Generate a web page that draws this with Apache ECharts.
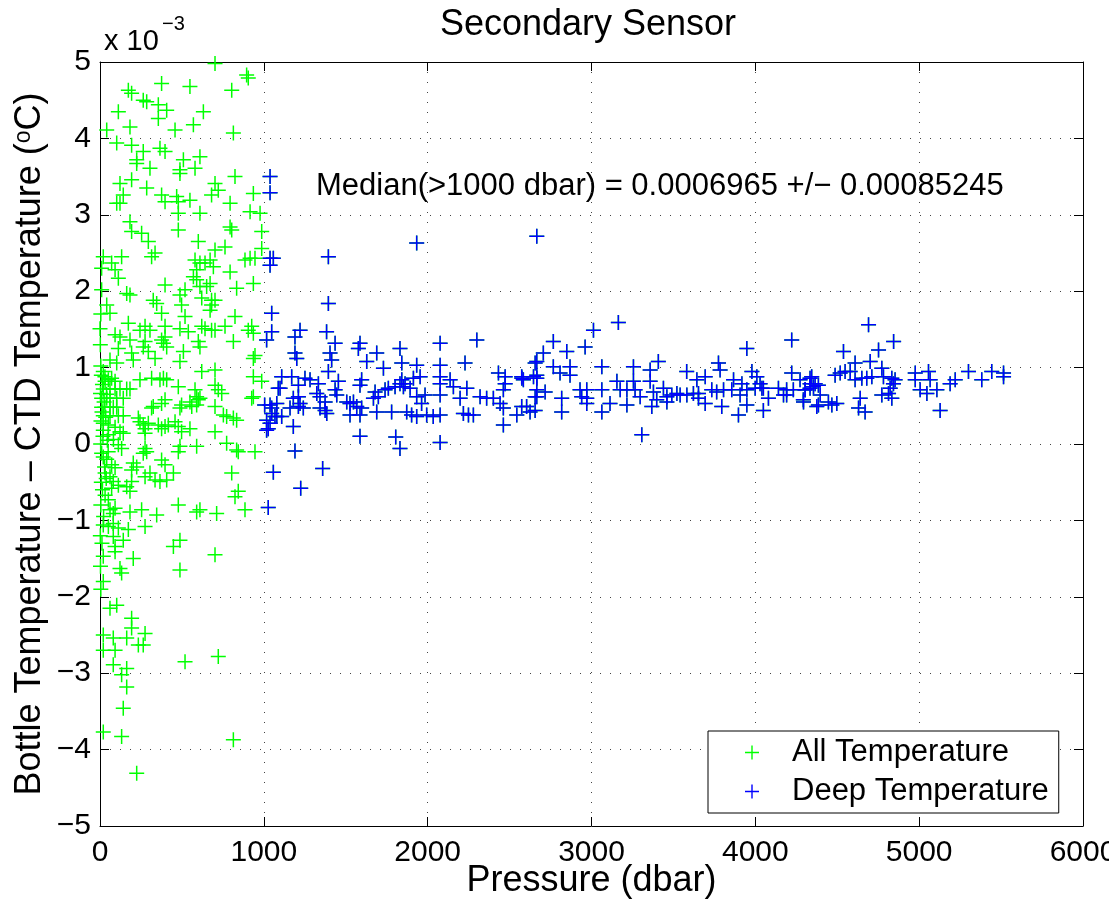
<!DOCTYPE html>
<html>
<head>
<meta charset="utf-8">
<script src="https://cdn.jsdelivr.net/npm/echarts@6/dist/echarts.min.js"></script>
<style>
  html, body { margin: 0; padding: 0; background: #ffffff; }
  #chart { width: 1109px; height: 905px; }
</style>
</head>
<body>
<div id="chart"></div>
<script>
// Values: [pressure (dbar), bottle - CTD temperature in units of 1e-3 °C]
const shallowPoints = [
  [702,4.98],[895,4.83],[905,4.79],[376,4.72],[549,4.68],[173,4.63],[193,4.59],[804,4.63],
  [264,4.50],[285,4.48],[356,4.44],[407,4.37],[112,4.35],[631,4.35],[356,4.26],[570,4.18],
  [183,4.15],[41,4.11],[458,4.11],[814,4.07],[102,3.94],[193,3.91],[366,3.87],[397,3.83],
  [264,3.83],[610,3.76],[224,3.72],[224,3.67],[509,3.72],[305,3.61],[580,3.61],[488,3.59],
  [488,3.54],[824,3.50],[193,3.46],[122,3.41],[702,3.41],[722,3.32],[285,3.35],[142,3.26],
  [376,3.26],[397,3.17],[468,3.24],[478,3.17],[549,3.19],[681,3.26],[936,3.28],[102,3.15],
  [122,3.15],[794,3.15],[478,3.02],[610,3.02],[916,3.04],[977,3.02],[183,2.91],[478,2.80],
  [794,2.84],[804,2.80],[987,2.78],[193,2.78],[254,2.76],[295,2.65],[600,2.65],[702,2.54],
  [763,2.58],[987,2.56],[20,2.45],[132,2.45],[336,2.50],[315,2.45],[580,2.41],[641,2.37],
  [672,2.41],[692,2.32],[885,2.41],[916,2.43],[946,2.43],[71,2.37],[92,2.28],[112,2.17],
  [590,2.28],[610,2.37],[794,2.25],[570,2.19],[590,2.15],[672,2.10],[936,2.10],[397,2.08],
  [610,2.06],[651,2.06],[834,2.04],[10,2.02],[163,1.97],[183,1.95],[519,2.02],[488,1.95],
  [325,1.88],[346,1.84],[621,1.91],[681,1.88],[702,1.88],[41,1.82],[498,1.82],[681,1.82],
  [61,1.71],[519,1.67],[672,1.75],[376,1.71],[824,1.67],[173,1.58],[0,1.51],[244,1.49],
  [275,1.54],[305,1.49],[397,1.54],[488,1.51],[539,1.47],[621,1.54],[641,1.51],[681,1.49],
  [702,1.49],[763,1.54],[905,1.49],[936,1.45],[926,1.54],[92,1.43],[122,1.40],[183,1.36],
  [275,1.34],[264,1.27],[376,1.36],[387,1.32],[407,1.27],[397,1.40],[509,1.21],[600,1.34],
  [610,1.27],[814,1.34],[112,1.25],[295,1.21],[336,1.12],[193,1.19],[203,1.10],[488,1.08],
  [936,1.12],[946,1.16],[61,1.10],[102,1.06],[20,0.95],[31,0.82],[51,0.84],[71,0.86],
  [92,0.82],[621,0.95],[702,0.97],[936,0.88],[987,0.82],[244,0.84],[315,0.86],[366,0.84],
  [387,0.86],[407,0.84],[478,0.75],[580,0.71],[590,0.62],[610,0.60],[702,0.77],[722,0.71],
  [743,0.66],[926,0.60],[936,0.62],[20,0.72],[61,0.72],[92,0.72],[122,0.72],[163,0.72],
  [183,0.72],[10,0.60],[41,0.60],[61,0.60],[102,0.60],[142,0.60],[315,0.47],[325,0.49],
  [376,0.53],[397,0.58],[488,0.47],[498,0.51],[549,0.55],[560,0.49],[600,0.58],[590,0.51],
  [702,0.49],[753,0.38],[773,0.36],[814,0.34],[834,0.31],[10,0.48],[30,0.48],[61,0.48],
  [81,0.48],[102,0.48],[20,0.37],[61,0.37],[112,0.37],[142,0.37],[234,0.34],[244,0.29],
  [264,0.25],[295,0.27],[275,0.20],[275,0.14],[356,0.25],[376,0.20],[397,0.23],[417,0.25],
  [458,0.29],[478,0.23],[498,0.16],[549,0.20],[702,0.16],[20,0.27],[51,0.25],[92,0.22],
  [122,0.16],[142,0.14],[20,0.18],[51,0.12],[82,0.06],[112,-0.01],[132,-0.06],[275,-0.06],
  [285,-0.10],[264,-0.12],[488,-0.03],[478,-0.10],[590,-0.03],[773,0.01],[834,-0.08],[844,-0.10],
  [946,-0.10],[20,-0.17],[41,-0.20],[71,-0.27],[92,-0.31],[203,-0.25],[224,-0.30],[193,-0.34],
  [376,-0.21],[397,-0.27],[448,-0.38],[305,-0.38],[275,-0.43],[336,-0.47],[366,-0.49],[407,-0.47],
  [193,-0.49],[163,-0.56],[183,-0.62],[804,-0.38],[844,-0.62],[824,-0.69],[31,-0.38],[61,-0.43],
  [81,-0.49],[112,-0.54],[71,-0.58],[31,-0.67],[51,-0.73],[92,-0.84],[61,-0.86],[81,-0.91],
  [183,-0.89],[254,-0.86],[346,-0.93],[478,-0.80],[590,-0.89],[610,-0.86],[712,-0.91],[885,-0.86],
  [20,-1.06],[51,-1.08],[81,-1.04],[112,-1.10],[173,-1.12],[275,-1.08],[81,-1.21],[92,-1.34],
  [142,-1.26],[488,-1.26],[448,-1.34],[20,-1.47],[203,-1.50],[702,-1.45],[92,-1.41],[122,-1.63],
  [132,-1.69],[488,-1.65],[20,-1.80],[61,-2.15],[102,-2.11],[193,-2.28],[193,-2.41],[275,-2.48],
  [20,-2.50],[81,-2.54],[163,-2.54],[234,-2.63],[264,-2.63],[20,-2.70],[92,-2.70],[519,-2.85],
  [722,-2.78],[81,-2.89],[163,-2.94],[132,-3.02],[163,-3.18],[142,-3.46],[20,-3.77],[132,-3.83],
  [814,-3.87],[224,-4.31],
  [5,1.02],[8,0.90],[15,0.78],[3,0.66],[25,0.55],[12,0.42],[6,0.30],[18,0.10],[4,0.00],
  [10,-0.12],[28,-0.30],[8,-0.50],[15,-0.60],[5,-0.80],[22,-0.95],[2,-1.20],[12,-1.30],
  [30,0.88],[40,0.65],[35,0.35],[45,0.05],[50,-0.10],[38,-0.45],[2,1.30],[5,1.70],[10,2.30],
  [3,-1.60],[5,-1.90]
];

const deepPoints = [
  [1038,3.50],[1038,3.29],[1038,2.43],[1058,2.43],[1038,2.34],[1394,2.45],[1933,2.63],[2666,2.72],
  [1394,1.84],[1048,1.71],[1048,1.47],[1221,1.49],[1190,1.40],[1383,1.47],[1017,1.36],[1435,1.32],
  [1587,1.32],[1577,1.25],[1831,1.25],[2076,1.32],[2300,1.36],[1190,1.19],[1201,1.12],[1404,1.19],
  [1414,1.10],[1689,1.19],[1628,1.08],[1842,1.06],[1730,0.99],[1933,1.03],[2076,1.03],[2076,0.88],
  [2228,1.06],[2656,1.06],[2666,0.90],[1394,0.95],[1109,0.88],[1170,0.88],[1251,0.86],[1282,0.84],
  [1333,0.79],[1455,0.82],[1597,0.84],[1587,0.77],[1842,0.84],[1862,0.79],[1913,0.86],[1954,0.88],
  [2076,0.79],[2137,0.84],[2157,0.75],[2239,0.73],[2432,0.93],[2473,0.88],[2574,0.88],[2584,0.84],
  [2646,0.88],[2656,0.62],[1099,0.73],[1079,0.53],[1180,0.60],[1160,0.47],[1211,0.77],[1211,0.62],
  [1211,0.49],[1221,0.53],[1241,0.47],[1323,0.66],[1343,0.62],[1374,0.55],[1343,0.47],[1374,0.44],
  [1384,0.40],[1435,0.71],[1445,0.64],[1506,0.55],[1526,0.53],[1547,0.55],[1567,0.49],[1597,0.47],
  [1526,0.38],[1587,0.38],[1679,0.68],[1669,0.60],[1699,0.62],[1740,0.71],[1760,0.73],[1689,0.42],
  [1780,0.42],[1801,0.75],[1831,0.79],[1852,0.75],[1893,0.73],[1872,0.42],[1902,0.38],[1933,0.36],
  [1933,0.62],[1963,0.53],[1984,0.64],[1994,0.38],[2034,0.36],[2076,0.38],[2076,0.64],[2198,0.60],
  [2218,0.40],[2249,0.38],[2279,0.38],[2320,0.62],[2360,0.60],[2401,0.60],[2442,0.53],[2462,0.47],
  [2462,0.71],[2473,0.79],[2544,0.38],[2604,0.49],[2656,0.44],[2462,0.25],[1587,0.10],[1805,0.09],
  [1831,-0.06],[2076,0.02],[1190,-0.09],[1017,0.31],[1027,0.20],[1048,0.40],[1079,0.36],[1005,0.51],
  [1038,0.51],[1058,-0.37],[1359,-0.32],[1225,-0.58],[1027,-0.83],[1180,0.23],[1088,0.73],[1048,0.47],
  [1068,0.36],[1109,0.36],[1038,0.27],[1017,0.18],
  [3164,1.59],[3012,1.49],[2767,1.34],[2961,1.27],[2849,1.21],[2706,1.19],[2666,1.08],[2767,1.01],
  [2869,1.01],[3063,1.01],[3256,1.01],[3408,1.08],[3358,0.97],[3581,0.95],[2808,0.93],[2869,0.90],
  [2666,0.86],[2575,0.86],[3775,1.06],[3785,0.97],[3694,0.88],[3643,0.84],[3948,1.25],[4222,1.36],
  [3979,0.95],[4009,0.88],[4222,0.93],[3155,0.82],[3256,0.82],[3358,0.82],[3867,0.84],[3918,0.79],
  [4029,0.79],[4040,0.73],[4344,0.88],[4334,0.79],[2666,0.71],[2717,0.68],[2930,0.71],[2971,0.71],
  [3063,0.71],[3175,0.71],[3216,0.71],[3266,0.71],[3297,0.62],[3378,0.68],[3439,0.73],[3460,0.62],
  [3490,0.64],[3521,0.66],[3541,0.64],[3582,0.64],[3622,0.66],[3653,0.66],[3734,0.71],[3764,0.68],
  [3806,0.71],[3856,0.71],[3907,0.64],[3948,0.71],[3999,0.73],[4049,0.73],[4080,0.60],[4141,0.73],
  [4191,0.71],[4232,0.71],[4304,0.71],[4334,0.73],[4365,0.79],[2574,0.49],[2625,0.42],[2666,0.62],
  [2818,0.60],[2818,0.42],[2940,0.62],[2971,0.60],[2971,0.53],[3063,0.42],[3113,0.53],[3216,0.51],
  [3368,0.49],[3398,0.58],[3460,0.55],[3653,0.60],[3694,0.53],[3795,0.49],[3897,0.38],[3948,0.51],
  [4049,0.44],[4172,0.64],[4191,0.64],[4293,0.58],[4375,0.49],[3307,0.12],
  [4691,1.56],[4844,1.34],[4538,1.21],[4752,1.23],[4609,1.06],[4701,1.08],[4772,0.99],[4487,0.90],
  [4518,0.93],[4548,0.95],[4579,0.95],[4609,0.84],[4650,0.86],[4680,0.86],[4711,0.88],[4782,0.88],
  [4833,0.86],[4853,0.84],[4976,0.93],[5057,0.95],[5067,0.84],[4976,0.84],[5301,0.95],[5443,0.95],
  [5515,0.93],[5515,0.88],[5382,0.84],[5220,0.84],[5189,0.79],[5006,0.71],[5047,0.66],[5108,0.71],
  [5128,0.44],[4823,0.73],[4843,0.79],[4813,0.66],[4772,0.64],[4833,0.60],[4640,0.60],[4630,0.47],
  [4670,0.42],[4273,0.84],[4304,0.71],[4334,0.86],[4355,0.75],[4385,0.77],[4396,0.64],[4294,0.55],
  [4385,0.51],[4446,0.55],[4467,0.51],[4497,0.53]
];

const seriesNames = ['All Temperature', 'Deep Temperature'];
const seriesColors = ['#00ff00', '#0000ff'];
const xTicks = [0, 1000, 2000, 3000, 4000, 5000, 6000];
const yTicks = [-5, -4, -3, -2, -1, 0, 1, 2, 3, 4, 5];
const titleText = 'Secondary Sensor';
const medianText = 'Median(>1000 dbar) = 0.0006965 +/\u2212 0.00085245';

const FONT = '"Liberation Sans", Arial, Helvetica, sans-serif';
const PLUS = 'path://M7.2,0H8.8V7.2H16V8.8H8.8V16H7.2V8.8H0V7.2H7.2Z';

const chart = echarts.init(document.getElementById('chart'), null, { renderer: 'canvas' });

const yTickFmt = v => (v < 0 ? '\u2212' + Math.abs(v) : String(v));
const xTickFmt = v => String(v);
const gridLine = { show: true, lineStyle: { color: '#444', width: 1, type: [1, 9] } };
const axisLine = { show: true, onZero: false, lineStyle: { color: '#000', width: 1 } };
const axisTick = { show: true, inside: true, length: 9, lineStyle: { color: '#000', width: 1 } };

const option = {
  animation: false,
  backgroundColor: '#ffffff',
  grid: { left: 100, right: 26, top: 62, bottom: 79, containLabel: false, outerBoundsMode: 'none' },
  xAxis: [
    {
      type: 'value', min: xTicks[0], max: xTicks[xTicks.length - 1], interval: 1000,
      position: 'bottom',
      axisLine, axisTick, splitLine: gridLine,
      axisLabel: { color: '#000', fontSize: 30, fontFamily: FONT, margin: 12, formatter: xTickFmt },
      name: 'Pressure (dbar)', nameLocation: 'middle', nameGap: 37, nameMoveOverlap: false,
      nameTextStyle: { color: '#000', fontSize: 36, fontFamily: FONT }
    },
    {
      type: 'value', min: xTicks[0], max: xTicks[xTicks.length - 1], interval: 1000,
      position: 'top',
      axisLine, axisTick, splitLine: { show: false }, axisLabel: { show: false }
    }
  ],
  yAxis: [
    {
      type: 'value', min: yTicks[0], max: yTicks[yTicks.length - 1], interval: 1,
      position: 'left',
      axisLine, axisTick, splitLine: gridLine,
      axisLabel: { color: '#000', fontSize: 30, fontFamily: FONT, margin: 9, formatter: yTickFmt },
      name: 'Bottle Temperature \u2013 CTD Temperature ({sup|o}C)',
      nameLocation: 'middle', nameGap: 52, nameRotate: 90, nameMoveOverlap: false,
      nameTextStyle: {
        color: '#000', fontSize: 36, fontFamily: FONT,
        rich: { sup: { fontSize: 23, fontFamily: FONT, color: '#000', verticalAlign: 'top' } }
      }
    },
    {
      type: 'value', min: yTicks[0], max: yTicks[yTicks.length - 1], interval: 1,
      position: 'right',
      axisLine, axisTick, splitLine: { show: false }, axisLabel: { show: false }
    }
  ],
  legend: {
    orient: 'vertical',
    left: 708, top: 731,
    backgroundColor: '#ffffff',
    borderColor: '#000', borderWidth: 1, borderRadius: 0,
    padding: [6, 10, 6, 37],
    itemGap: 8, itemWidth: 14, itemHeight: 14,
    textStyle: { color: '#000', fontSize: 31, fontFamily: FONT, padding: [0, 0, 0, 28] },
    data: [
      { name: seriesNames[0], icon: PLUS },
      { name: seriesNames[1], icon: PLUS }
    ]
  },
  graphic: [
    {
      type: 'text',
      style: { x: 588, y: 25, text: titleText, fill: '#000', font: '36px ' + FONT,
               textAlign: 'center', textVerticalAlign: 'middle' }
    },
    {
      type: 'text',
      style: { x: 104, y: 42, text: 'x 10', fill: '#000', font: '29px ' + FONT,
               textAlign: 'left', textVerticalAlign: 'middle' }
    },
    {
      type: 'text',
      style: { x: 162, y: 24, text: '\u22123', fill: '#000', font: '20px ' + FONT,
               textAlign: 'left', textVerticalAlign: 'middle' }
    },
    {
      type: 'text',
      style: { x: 316, y: 186, text: medianText, fill: '#000', font: '31px ' + FONT,
               textAlign: 'left', textVerticalAlign: 'middle' }
    }
  ],
  series: [
    {
      name: seriesNames[0], type: 'scatter', xAxisIndex: 0, yAxisIndex: 0,
      symbol: PLUS, symbolSize: 15,
      itemStyle: { color: seriesColors[0], opacity: 1 },
      emphasis: { disabled: true },
      data: shallowPoints.concat(deepPoints)
    },
    {
      name: seriesNames[1], type: 'scatter', xAxisIndex: 0, yAxisIndex: 0,
      symbol: PLUS, symbolSize: 15,
      itemStyle: { color: seriesColors[1], opacity: 1 },
      emphasis: { disabled: true },
      data: deepPoints
    }
  ]
};
chart.setOption(option);
</script>
</body>
</html>
